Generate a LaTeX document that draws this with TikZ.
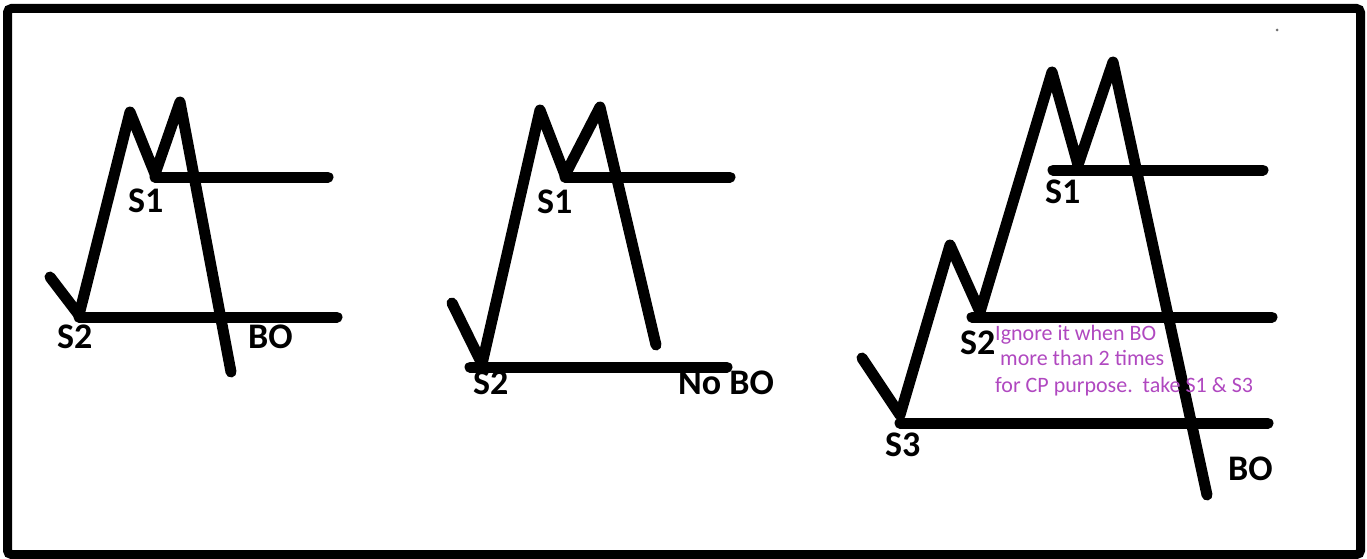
\documentclass[tikz,border=0pt]{standalone}
\usepackage{fontspec}
\setmainfont{Carlito}
\usepackage{xcolor}
\usetikzlibrary{positioning,calc}
\definecolor{sketchInk}{HTML}{000000}
\definecolor{sketchDot}{HTML}{707070}
\definecolor{notePurple}{HTML}{B048C0}
\tikzset{
  price path/.style={
    draw=sketchInk, line width=11pt,
    line cap=round, line join=round,
  },
  level line/.style={
    draw=sketchInk, line width=11pt, line cap=round,
  },
  level label/.style={
    anchor=base west, inner sep=0pt, text=sketchInk,
    font=\fontsize{36}{40}\selectfont\bfseries,
  },
  note text/.style={
    anchor=base west, inner sep=0pt, text=notePurple,
    font=\fontsize{22}{26}\selectfont,
  },
}

\begin{document}
\begin{tikzpicture}[x=1pt, y=-1pt]

\useasboundingbox (0,0) rectangle (1367,559);

% --- FRAME ---
\draw[line width=9pt, rounded corners=4pt] (7.5,8.5) rectangle (1360.5,554.5);
\fill[sketchDot] (1277,30) circle (1.5pt);

% --- LEFT: BREAKOUT ---
\coordinate (aStart) at (50,277);
\coordinate (aS2)    at (79,315);
\coordinate (aTop1)  at (130,112);
\coordinate (aS1)    at (155,174);
\coordinate (aTop2)  at (180,102);
\coordinate (aEnd)   at (231,372);
\draw[price path] (aStart) -- (aS2) -- (aTop1) -- (aS1) -- (aTop2) -- (aEnd);
\draw[level line] (aS1 |- 0,177) -- (328,177);
\draw[level line] (aS2 |- 0,317) -- (337,317);

\node[level label] (aLabS1) at (128,212) {S1};
\node[level label] (aLabS2) at (57,348) {S2};
\node[level label] (aLabBO) at (248,348) {BO};

% --- MIDDLE: NO BREAKOUT ---
\coordinate (bStart) at (452,303);
\coordinate (bS2)    at (482,364);
\coordinate (bTop1)  at (540,110);
\coordinate (bS1)    at (565,175);
\coordinate (bTop2)  at (600,107);
\coordinate (bEnd)   at (656,345);
\draw[price path] (bStart) -- (bS2) -- (bTop1) -- (bS1) -- (bTop2) -- (bEnd);
\draw[level line] (bS1 |- 0,177) -- (730,177);
\draw[level line] (470,367) -- (727,367);

\node[level label] (bLabS1) at (537,213) {S1};
\node[level label] (bLabS2) at (473,394) {S2};
\node[level label] (bLabBO) at (678,394) {No BO};

% --- RIGHT: THREE SUPPORTS ---
\coordinate (cStart) at (862,358);
\coordinate (cS3)    at (900,415);
\coordinate (cTopA)  at (950,245);
\coordinate (cS2)    at (980,312);
\coordinate (cTop1)  at (1052,72);
\coordinate (cS1)    at (1078,165);
\coordinate (cTop2)  at (1113,62);
\coordinate (cEnd)   at (1207,495);
\draw[price path] (cStart) -- (cS3) -- (cTopA) -- (cS2) -- (cTop1) -- (cS1)
  -- (cTop2) -- (cEnd);
\draw[level line] (1053,170) -- (1263,170);
\draw[level line] (972,317) -- (1272,317);
\draw[level line] (900,423) -- (1268,423);

\node[level label] (cLabS1) at (1045,203) {S1};
\node[level label] (cLabS2) at (960,354) {S2};
\node[level label] (cLabS3) at (885,456) {S3};
\node[level label] (cLabBO) at (1228,480) {BO};

% --- NOTE ---
\node[note text] (noteA) at (995,340) {Ignore it when BO};
\node[note text] (noteB) at (1000,365) {more than 2 times};
\node[note text] (noteC) at (995,392) {for CP purpose.\ \ take S1 \& S3};

\end{tikzpicture}
\end{document}
